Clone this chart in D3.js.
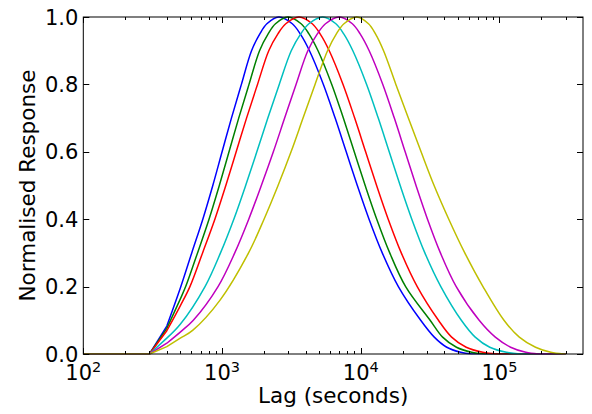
<!DOCTYPE html>
<html><head><meta charset="utf-8">
<script src="https://cdn.jsdelivr.net/npm/d3@7"></script>
<style>
html,body{margin:0;padding:0;background:#fff;}
svg{display:block;font-family:"DejaVu Sans",sans-serif;}
</style></head>
<body><svg id="c" width="592" height="414"></svg>
<script>
// ---- data ----
const seriesNames = ["b", "g", "r", "c", "m", "y"];
const seriesColors = ["#0000ff", "#008000", "#ff0000", "#00bfbf", "#bf00bf", "#bfbf00"];

const lagB  = [100, 200, 300, 400, 500, 605, 727, 858, 1001, 1169, 1379, 1632, 1873, 2106, 2570, 3210, 3663, 4269, 5378, 6538, 7857, 9445, 11477, 14288, 18671, 27040, 33884, 41687, 52481, 63096, 300000];
const respB = [0, 0, 0, 0.083, 0.195, 0.3, 0.4, 0.5, 0.6, 0.7, 0.8, 0.9, 0.95, 0.98, 1.0, 0.98, 0.95, 0.9, 0.8, 0.7, 0.6, 0.5, 0.4, 0.3, 0.2, 0.1, 0.05, 0.02, 0.005, 0, 0];

const lagG  = [100, 200, 300, 400, 500, 547, 666, 806, 956, 1123, 1319, 1565, 1864, 2150, 2429, 2985, 3717, 4232, 4921, 6180, 7490, 8977, 10762, 13041, 16180, 21067, 31623, 38905, 48978, 63096, 77625, 300000];
const respG = [0, 0, 0, 0.076, 0.163, 0.2, 0.3, 0.4, 0.5, 0.6, 0.7, 0.8, 0.9, 0.95, 0.98, 1.0, 0.98, 0.95, 0.9, 0.8, 0.7, 0.6, 0.5, 0.4, 0.3, 0.2, 0.1, 0.05, 0.02, 0.005, 0, 0];

const lagR  = [100, 200, 300, 400, 500, 587, 724, 888, 1065, 1265, 1502, 1802, 2172, 2528, 2880, 3589, 4472, 5095, 5929, 7453, 9041, 10842, 13011, 15776, 19592, 25538, 36308, 45186, 57544, 75858, 95499, 300000];
const respR = [0, 0, 0, 0.069, 0.143, 0.2, 0.3, 0.4, 0.5, 0.6, 0.7, 0.8, 0.9, 0.95, 0.98, 1.0, 0.98, 0.95, 0.9, 0.8, 0.7, 0.6, 0.5, 0.4, 0.3, 0.2, 0.1, 0.05, 0.02, 0.005, 0, 0];

const lagC  = [100, 200, 300, 400, 500, 754, 975, 1216, 1480, 1782, 2139, 2585, 3155, 3693, 4228, 5313, 6619, 7540, 8770, 11024, 13373, 16036, 19245, 23335, 28980, 37774, 53088, 66834, 85114, 112202, 141254, 300000];
const respC = [0, 0, 0, 0.047, 0.088, 0.2, 0.3, 0.4, 0.5, 0.6, 0.7, 0.8, 0.9, 0.95, 0.98, 1.0, 0.98, 0.95, 0.9, 0.8, 0.7, 0.6, 0.5, 0.4, 0.3, 0.2, 0.1, 0.05, 0.02, 0.005, 0, 0];

const lagM  = [100, 200, 300, 400, 500, 621, 936, 1235, 1558, 1920, 2344, 2827, 3416, 4155, 4864, 5569, 6998, 8700, 9899, 11502, 14420, 17458, 20898, 25027, 30284, 37523, 48775, 71380, 93325, 120226, 154882, 190546, 300000];
const respM = [0, 0, 0, 0.032, 0.065, 0.1, 0.2, 0.3, 0.4, 0.5, 0.6, 0.7, 0.8, 0.9, 0.95, 0.98, 1.0, 0.98, 0.95, 0.9, 0.8, 0.7, 0.6, 0.5, 0.4, 0.3, 0.2, 0.1, 0.05, 0.02, 0.005, 0, 0];

const lagY  = [100, 200, 300, 400, 500, 617, 968, 1553, 2008, 2534, 3145, 3837, 4682, 5762, 6673, 7568, 9358, 11371, 12765, 14603, 17912, 22034, 27218, 33782, 43108, 56219, 76033, 107744, 138936, 181970, 234423, 288403, 300000];
const respY = [0, 0, 0, 0.022, 0.047, 0.071, 0.16, 0.3, 0.4, 0.5, 0.6, 0.7, 0.8, 0.9, 0.95, 0.98, 1.0, 0.98, 0.95, 0.9, 0.8, 0.7, 0.6, 0.5, 0.4, 0.3, 0.2, 0.1, 0.05, 0.02, 0.005, 0, 0];

const seriesLags = [lagB, lagG, lagR, lagC, lagM, lagY];
const seriesResp = [respB, respG, respR, respC, respM, respY];

const xMajorTicks = [1e2, 1e3, 1e4, 1e5];
const xTickExps = ["2", "3", "4", "5"];
const yTicks = [0, 0.2, 0.4, 0.6, 0.8, 1.0];
const xLabel = "Lag (seconds)";
const yLabel = "Normalised Response";

// ---- drawing ----
const L = 83.3, R = 583, T = 17, B = 354;
const svg = d3.select("#c");
const x = d3.scaleLog().domain([100, 4e5]).range([L, R]);
const y = d3.scaleLinear().domain([0, 1]).range([B, T]);

svg.append("defs").append("clipPath").attr("id", "cl")
  .append("rect").attr("x", L).attr("y", T - 1).attr("width", R - L).attr("height", B - T + 1.5);

const lineLin = d3.line().x(d => x(d[0])).y(d => y(d[1]));
const lineSmooth = d3.line().x(d => x(d[0])).y(d => y(d[1])).curve(d3.curveCatmullRom.alpha(0.5));
const gl = svg.append("g").attr("clip-path", "url(#cl)");
seriesNames.forEach((n, i) => {
  const pts = seriesLags[i].map((l, j) => [l, seriesResp[i][j]]);
  // coarse samples up to 400 s and the flat zero tail: straight segments; the rest smooth
  const k = pts.findIndex(p => p[0] === 400);
  const last = pts.length - 2;
  const d = lineLin(pts.slice(0, k + 1)) + "L" + lineSmooth(pts.slice(k, last + 1)).slice(1)
    + "L" + x(pts[pts.length - 1][0]) + "," + y(pts[pts.length - 1][1]);
  gl.append("path").attr("d", d)
    .attr("fill", "none").attr("stroke", seriesColors[i]).attr("stroke-width", 1.5)
    .attr("stroke-linejoin", "round");
});

// frame
svg.append("rect").attr("x", L).attr("y", T).attr("width", R - L).attr("height", B - T)
  .attr("fill", "none").attr("stroke", "#000").attr("stroke-width", 1);

// ticks (inside, all four sides)
const minor = [];
for (let d = 2; d <= 5; d++) for (let k = 2; k <= 9; k++) { const v = k * Math.pow(10, d); if (v < 4e5) minor.push(v); }
const tk = svg.append("g").attr("stroke", "#000").attr("stroke-width", 1);
minor.forEach(v => {
  const px = Math.round(x(v)) + 0.5;
  tk.append("line").attr("x1", px).attr("x2", px).attr("y1", B).attr("y2", B - 3);
  tk.append("line").attr("x1", px).attr("x2", px).attr("y1", T).attr("y2", T + 3);
});
xMajorTicks.forEach(v => {
  const px = Math.round(x(v)) + 0.5;
  tk.append("line").attr("x1", px).attr("x2", px).attr("y1", B).attr("y2", B - 6);
  tk.append("line").attr("x1", px).attr("x2", px).attr("y1", T).attr("y2", T + 6);
});
yTicks.forEach(v => {
  const py = Math.round(y(v)) + 0.5;
  tk.append("line").attr("x1", L).attr("x2", L + 6).attr("y1", py).attr("y2", py);
  tk.append("line").attr("x1", R).attr("x2", R - 6).attr("y1", py).attr("y2", py);
});

// tick labels
const fs = 21;
yTicks.forEach(v => {
  svg.append("text").attr("x", L - 5).attr("y", y(v)).attr("dy", "0.36em")
    .attr("text-anchor", "end").attr("font-size", fs).text(d3.format(".1f")(v));
});
xMajorTicks.forEach((v, i) => {
  const t = svg.append("text").attr("x", x(v)).attr("y", 380)
    .attr("text-anchor", "middle").attr("font-size", fs);
  t.append("tspan").text("10");
  t.append("tspan").attr("dy", -8).attr("font-size", 14.5).text(xTickExps[i]);
});

// axis labels
svg.append("text").attr("x", (L + R) / 2).attr("y", 403).attr("text-anchor", "middle")
  .attr("font-size", 21.5).text(xLabel);
svg.append("text").attr("transform", `translate(35,${(T + B) / 2}) rotate(-90)`)
  .attr("text-anchor", "middle").attr("font-size", 21.5).text(yLabel);
</script></body></html>
